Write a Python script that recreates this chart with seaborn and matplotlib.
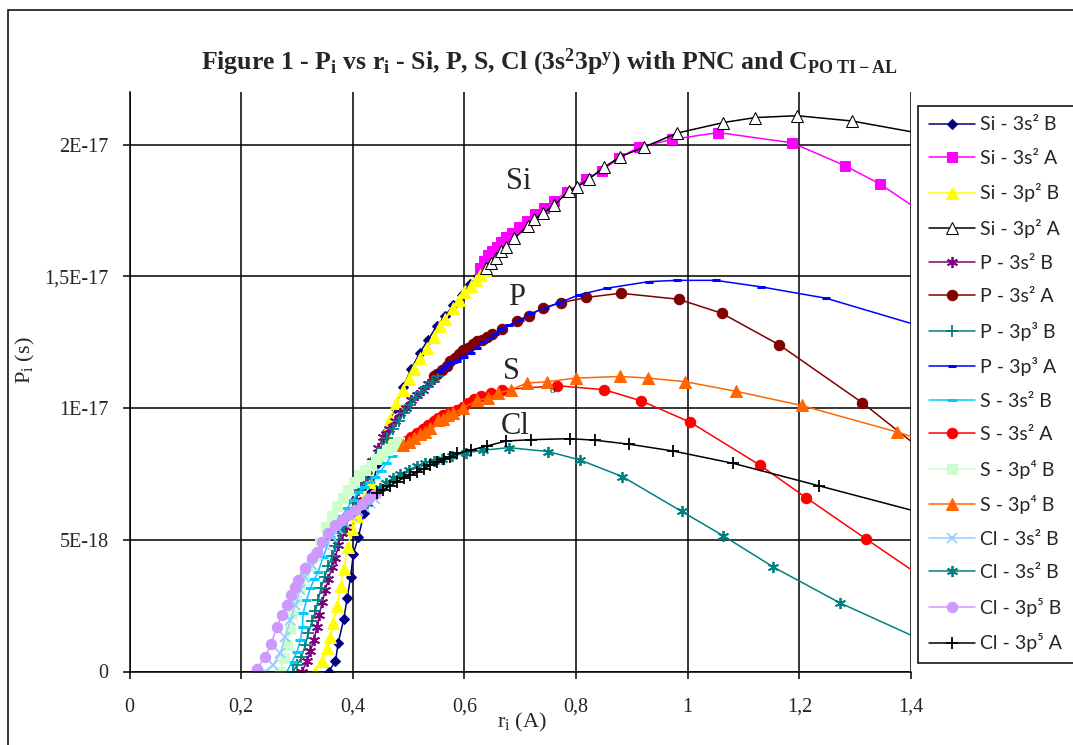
import numpy as np
import pandas as pd
import matplotlib
matplotlib.use("Agg")
import matplotlib.pyplot as plt
from matplotlib.patches import Rectangle
import seaborn as sns

# values, P in units of 1E-17 s, r in A
si_s2_b_r = [0.357, 0.369, 0.374, 0.384, 0.39, 0.396, 0.401, 0.41, 0.42, 0.432, 0.445, 0.46, 0.475,
             0.49, 0.505, 0.52, 0.535, 0.55, 0.565, 0.58, 0.595, 0.61, 0.625, 0.635]
si_s2_b_p = [0, 0.04, 0.11, 0.2, 0.28, 0.357, 0.447, 0.51, 0.6, 0.68, 0.79, 0.91, 1.0,
             1.08, 1.15, 1.21, 1.26, 1.31, 1.35, 1.39, 1.43, 1.47, 1.5, 1.53]

si_s2_a_r = [0.628, 0.635, 0.642, 0.65, 0.658, 0.666, 0.675, 0.685, 0.698, 0.712, 0.727, 0.743, 0.761,
             0.784, 0.818, 0.846, 0.877, 0.912, 0.972, 1.055, 1.187, 1.282, 1.345, 1.45]
si_s2_a_p = [1.53, 1.56, 1.58, 1.595, 1.61, 1.63, 1.65, 1.665, 1.686, 1.71, 1.735, 1.76, 1.788,
             1.82, 1.87, 1.90, 1.95, 1.99, 2.02, 2.046, 2.007, 1.92, 1.85, 1.70]

si_p2_b_r = [0.333, 0.345, 0.354, 0.36, 0.365, 0.372, 0.378, 0.384, 0.391, 0.399, 0.408, 0.418, 0.43,
             0.445, 0.458, 0.467, 0.478, 0.49, 0.5, 0.51, 0.52, 0.533, 0.545, 0.556, 0.566, 0.58,
             0.59, 0.6, 0.611, 0.62, 0.628, 0.636]
si_p2_b_p = [0, 0.04, 0.09, 0.13, 0.186, 0.25, 0.326, 0.39, 0.474, 0.54, 0.59, 0.65, 0.72,
             0.82, 0.9, 0.96, 1.02, 1.07, 1.11, 1.15, 1.19, 1.23, 1.27, 1.31, 1.34, 1.38,
             1.41, 1.44, 1.465, 1.485, 1.505, 1.525]

si_p2_a_r = [0.639, 0.648, 0.657, 0.666, 0.675, 0.689, 0.713, 0.725, 0.74, 0.761, 0.787, 0.802, 0.823,
             0.85, 0.879, 0.921, 0.981, 1.064, 1.121, 1.196, 1.294, 1.45]
si_p2_a_p = [1.53, 1.55, 1.57, 1.595, 1.61, 1.644, 1.69, 1.716, 1.74, 1.77, 1.825, 1.84, 1.87,
             1.914, 1.954, 1.99, 2.044, 2.084, 2.103, 2.11, 2.09, 2.03]

p_s2_b_r = [0.309, 0.318, 0.324, 0.33, 0.336, 0.34, 0.345, 0.351, 0.356, 0.363, 0.369, 0.374, 0.38,
            0.387, 0.395, 0.405, 0.415, 0.425, 0.435, 0.445, 0.455, 0.465, 0.475, 0.485, 0.495,
            0.505, 0.515, 0.525, 0.535, 0.545]
p_s2_b_p = [0, 0.04, 0.077, 0.12, 0.168, 0.214, 0.263, 0.31, 0.35, 0.397, 0.43, 0.48, 0.527,
            0.55, 0.6, 0.65, 0.7, 0.745, 0.8, 0.85, 0.89, 0.92, 0.95, 0.98, 1.0,
            1.03, 1.05, 1.07, 1.09, 1.11]

p_s2_a_r = [0.545, 0.551, 0.56, 0.568, 0.575, 0.583, 0.59, 0.598, 0.606, 0.615, 0.623, 0.632, 0.641,
            0.65, 0.668, 0.695, 0.715, 0.74, 0.773, 0.818, 0.88, 0.984, 1.061, 1.164, 1.313, 1.45]
p_s2_a_p = [1.12, 1.13, 1.145, 1.16, 1.18, 1.19, 1.205, 1.22, 1.23, 1.245, 1.255, 1.26, 1.27,
            1.28, 1.30, 1.33, 1.35, 1.38, 1.40, 1.42, 1.436, 1.413, 1.36, 1.24, 1.02, 0.79]

p_p3_b_r = [0.293, 0.3, 0.308, 0.315, 0.32, 0.327, 0.333, 0.338, 0.343, 0.35, 0.356, 0.363, 0.369,
            0.378, 0.384, 0.392, 0.402, 0.412, 0.422, 0.432, 0.442, 0.452, 0.462, 0.472, 0.482,
            0.492, 0.502, 0.512, 0.522, 0.532, 0.542, 0.552]
p_p3_b_p = [0, 0.023, 0.055, 0.1, 0.145, 0.19, 0.23, 0.27, 0.317, 0.36, 0.4, 0.437, 0.475,
            0.527, 0.55, 0.59, 0.64, 0.69, 0.73, 0.77, 0.81, 0.85, 0.885, 0.92, 0.95,
            0.98, 1.01, 1.04, 1.06, 1.08, 1.10, 1.12]

p_p3_a_r = [0.557, 0.565, 0.575, 0.587, 0.6, 0.611, 0.622, 0.634, 0.645, 0.655, 0.665, 0.68, 0.7,
            0.72, 0.745, 0.77, 0.805, 0.855, 0.93, 0.98, 1.05, 1.132, 1.248, 1.45]
p_p3_a_p = [1.14, 1.155, 1.17, 1.18, 1.195, 1.21, 1.23, 1.25, 1.265, 1.28, 1.30, 1.315, 1.335,
            1.36, 1.38, 1.40, 1.43, 1.455, 1.48, 1.485, 1.485, 1.46, 1.417, 1.29]

s_s2_b_r = [0.282, 0.291, 0.3, 0.306, 0.31, 0.311, 0.317, 0.324, 0.331, 0.338, 0.347, 0.36, 0.37,
            0.38, 0.39, 0.4, 0.41, 0.42, 0.43, 0.44, 0.45, 0.46, 0.47]
s_s2_b_p = [0, 0.036, 0.074, 0.118, 0.169, 0.221, 0.27, 0.317, 0.35, 0.378, 0.435, 0.51, 0.55,
            0.59, 0.62, 0.65, 0.68, 0.70, 0.72, 0.74, 0.76, 0.79, 0.82]

s_s2_a_r = [0.485, 0.495, 0.505, 0.515, 0.525, 0.535, 0.545, 0.553, 0.562, 0.575, 0.587, 0.597, 0.607,
            0.618, 0.629, 0.647, 0.668, 0.766, 0.85, 0.916, 1.004, 1.129, 1.212, 1.319, 1.45]
s_s2_a_p = [0.86, 0.875, 0.89, 0.905, 0.92, 0.935, 0.95, 0.962, 0.974, 0.985, 0.993, 1.005, 1.02,
            1.035, 1.046, 1.057, 1.07, 1.085, 1.07, 1.028, 0.947, 0.784, 0.66, 0.504, 0.315]

s_p4_b_r = [0.27, 0.276, 0.282, 0.287, 0.292, 0.298, 0.305, 0.313, 0.322, 0.332, 0.342, 0.352, 0.362,
            0.372, 0.382, 0.392, 0.402, 0.412, 0.422, 0.432, 0.442, 0.452, 0.462, 0.472, 0.482]
s_p4_b_p = [0, 0.05, 0.1, 0.16, 0.22, 0.27, 0.32, 0.36, 0.40, 0.44, 0.49, 0.55, 0.59,
            0.63, 0.66, 0.69, 0.72, 0.745, 0.765, 0.785, 0.805, 0.825, 0.84, 0.855, 0.87]

s_p4_b2_r = [0.49, 0.5, 0.51, 0.52, 0.53, 0.539, 0.553, 0.561, 0.571, 0.579, 0.598, 0.623, 0.643,
             0.661, 0.683, 0.712, 0.748, 0.8, 0.879, 0.929, 0.996, 1.086, 1.204, 1.375, 1.45]
s_p4_b2_p = [0.86, 0.87, 0.885, 0.9, 0.91, 0.924, 0.955, 0.96, 0.974, 0.98, 1.0, 1.03, 1.038,
             1.057, 1.07, 1.095, 1.1, 1.114, 1.12, 1.114, 1.1, 1.064, 1.01, 0.909, 0.86]

cl_s2_b_r = [0.243, 0.257, 0.27, 0.279, 0.288, 0.297, 0.306, 0.315, 0.327, 0.338, 0.35, 0.362, 0.374,
             0.386, 0.398, 0.41, 0.42, 0.43, 0.44]
cl_s2_b_p = [0, 0.023, 0.069, 0.131, 0.195, 0.252, 0.31, 0.36, 0.405, 0.443, 0.48, 0.51, 0.54,
             0.565, 0.59, 0.61, 0.625, 0.64, 0.655]

cl_s2_b2_r = [0.425, 0.435, 0.449, 0.46, 0.472, 0.485, 0.5, 0.515, 0.53, 0.545, 0.56, 0.578, 0.602,
              0.634, 0.679, 0.75, 0.807, 0.883, 0.989, 1.063, 1.153, 1.273, 1.45]
cl_s2_b2_p = [0.64, 0.665, 0.695, 0.715, 0.735, 0.75, 0.765, 0.78, 0.79, 0.8, 0.805, 0.817, 0.83,
              0.84, 0.85, 0.835, 0.803, 0.74, 0.608, 0.516, 0.397, 0.26, 0.09]

cl_p5_b_r = [0.228, 0.243, 0.254, 0.264, 0.273, 0.282, 0.29, 0.297, 0.302, 0.315, 0.327, 0.336, 0.345,
             0.356, 0.369, 0.38, 0.392, 0.404, 0.416, 0.428, 0.44]
cl_p5_b_p = [0.01, 0.055, 0.106, 0.169, 0.214, 0.252, 0.29, 0.32, 0.347, 0.393, 0.43, 0.455, 0.49,
             0.527, 0.557, 0.576, 0.595, 0.614, 0.634, 0.655, 0.675]

cl_p5_a_r = [0.443, 0.455, 0.467, 0.479, 0.491, 0.503, 0.515, 0.527, 0.539, 0.551, 0.563, 0.575, 0.587,
             0.611, 0.64, 0.675, 0.719, 0.789, 0.834, 0.895, 0.974, 1.082, 1.235, 1.45]
cl_p5_a_p = [0.676, 0.69, 0.705, 0.72, 0.735, 0.745, 0.757, 0.77, 0.783, 0.796, 0.805, 0.815, 0.828,
             0.84, 0.856, 0.875, 0.88, 0.884, 0.878, 0.863, 0.837, 0.79, 0.705, 0.585]

x_ticks = [0, 0.2, 0.4, 0.6, 0.8, 1.0, 1.2, 1.4]
x_tick_labels = ["0", "0,2", "0,4", "0,6", "0,8", "1", "1,2", "1,4"]
y_ticks = [0, 5e-18, 1e-17, 1.5e-17, 2e-17]
y_tick_labels = ["0", "5E-18", "1E-17", "1,5E-17", "2E-17"]

# label, r, P, colour, marker, marker size, face colour
series = [
    ("Si - 3s² B", si_s2_b_r, si_s2_b_p, "#000080", "D", 5.5, None),
    ("Si - 3s² A", si_s2_a_r, si_s2_a_p, "#FF00FF", "s", 7, None),
    ("Si - 3p² B", si_p2_b_r, si_p2_b_p, "#FFFF00", "^", 8, None),
    ("Si - 3p² A", si_p2_a_r, si_p2_a_p, "#000000", "^", 8, "white"),
    ("P - 3s² B", p_s2_b_r, p_s2_b_p, "#800080", (6, 2, 0), 8, None),
    ("P - 3s² A", p_s2_a_r, p_s2_a_p, "#800000", "o", 7.5, None),
    ("P - 3p³ B", p_p3_b_r, p_p3_b_p, "#008080", "+", 8, None),
    ("P - 3p³ A", p_p3_a_r, p_p3_a_p, "#0000FF", "_", 6, None),
    ("S - 3s² B", s_s2_b_r, s_s2_b_p, "#00CCFF", "_", 7, None),
    ("S - 3s² A", s_s2_a_r, s_s2_a_p, "#FF0000", "o", 7.5, None),
    ("S - 3p⁴ B", s_p4_b_r, s_p4_b_p, "#CCFFCC", "s", 7, None),
    ("S - 3p⁴ B", s_p4_b2_r, s_p4_b2_p, "#FF6600", "^", 8, None),
    ("Cl - 3s² B", cl_s2_b_r, cl_s2_b_p, "#99CCFF", "x", 6.5, None),
    ("Cl - 3s² B", cl_s2_b2_r, cl_s2_b2_p, "#008080", (6, 2, 0), 8, None),
    ("Cl - 3p⁵ B", cl_p5_b_r, cl_p5_b_p, "#CC99FF", "o", 7.5, None),
    ("Cl - 3p⁵ A", cl_p5_a_r, cl_p5_a_p, "#000000", "+", 8, None),
]

sns.set_style("white")
plt.rcParams["font.family"] = ["Liberation Serif", "DejaVu Serif"]
plt.rcParams["mathtext.fontset"] = "custom"
plt.rcParams["mathtext.rm"] = "Liberation Serif"
plt.rcParams["mathtext.it"] = "Liberation Serif:italic"
plt.rcParams["mathtext.bf"] = "Liberation Serif:bold"

fig = plt.figure(figsize=(10.73, 7.45), dpi=100)
ax = fig.add_axes([129.5 / 1073, 1 - 671.5 / 745, 781.5 / 1073, 579.5 / 745])

for lbl, r, p, col, mk, ms, face in series:
    df = pd.DataFrame({"r": r, "P": np.array(p) * 1e-17})
    kw = dict(marker=mk, markersize=ms, markeredgecolor=col,
              markerfacecolor=face if face else col)
    if mk in ("+", "x", "_") or isinstance(mk, tuple):
        kw["markeredgewidth"] = 2.2 if mk == "_" else 1.3
    sns.lineplot(data=df, x="r", y="P", ax=ax, color=col, linewidth=1.1, sort=False,
                 estimator=None, label=lbl, **kw)

ax.set_xlim(0, 1.4)
ax.set_ylim(0, 2.2e-17)
ax.set_xticks(x_ticks)
ax.set_xticklabels(x_tick_labels)
ax.set_yticks(y_ticks)
ax.set_yticklabels(y_tick_labels)
ax.grid(True, color="black", linewidth=1.1)
ax.set_axisbelow(True)
for side in ("top", "right"):
    ax.spines[side].set_visible(False)
for side in ("left", "bottom"):
    ax.spines[side].set_color("black")
    ax.spines[side].set_linewidth(1.1)
ax.tick_params(axis="x", direction="out", length=5, width=1.1, color="black", pad=14, labelsize=14.5)
ax.tick_params(axis="y", direction="out", length=5, width=1.1, color="black", pad=10, labelsize=14.5)
ax.tick_params(bottom=True, left=True)

ax.set_xlabel(r"r$_\mathrm{i}$ (A)", fontsize=16)
ax.set_ylabel(r"P$_\mathrm{i}$ (s)", fontsize=16)
ax.xaxis.set_label_coords(0.502, -0.068)
ax.yaxis.set_label_coords(-0.118, 0.5375)

# curve names
ax.text(0.698, 1.86e-17, "Si", fontsize=22, ha="center", va="center")
ax.text(0.694, 1.42e-17, "P", fontsize=22, ha="center", va="center")
ax.text(0.684, 1.14e-17, "S", fontsize=22, ha="center", va="center")
ax.text(0.691, 0.932e-17, "Cl", fontsize=22, ha="center", va="center")
ax.text(0.757, 1.067e-17, "o", fontsize=8, ha="center", va="center")

fig.text(549 / 1073, 1 - 62 / 745,
         r"Figure 1 - P$_\mathbf{i}$ vs r$_\mathbf{i}$ - Si, P, S, Cl (3s$^\mathbf{2}$3p$^\mathbf{y}$) "
         r"with PNC and C$_\mathbf{PO\ TI-AL}$",
         ha="center", va="center", fontsize=18.5, fontweight="bold")

leg = ax.legend(loc="upper left", bbox_to_anchor=(918 / 1073, 0.1154, 0.2, 0.7427),
                bbox_transform=fig.transFigure, mode="expand", ncol=1,
                prop={"family": ["Lato", "Noto Sans", "DejaVu Sans"], "size": 14},
                frameon=True, fancybox=False, framealpha=1, edgecolor="black",
                borderpad=0.55, labelspacing=0.85, handlelength=2.4, handletextpad=0.25,
                borderaxespad=0, numpoints=1)
leg.get_frame().set_linewidth(1.1)

fig.add_artist(Rectangle((8 / 1073, -0.05), 1.2, 1.05 - 10 / 745, transform=fig.transFigure,
                         fill=False, edgecolor="black", linewidth=1.1))

fig.savefig("out.png", dpi=100)
